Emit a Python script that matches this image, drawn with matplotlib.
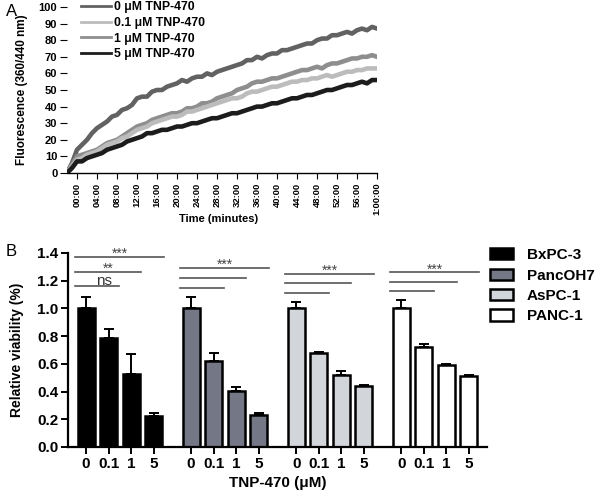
import matplotlib.pyplot as plt
from matplotlib.lines import Line2D
from matplotlib.patches import Patch
import numpy as np

plt.rcParams['font.family'] = ['Liberation Sans', 'DejaVu Sans']

# --- panel A : fluorescence over time (one point per minute)
minutes = list(range(-2, 61))
time_ticks = list(range(0, 61, 4))
time_labels = ['00:00', '04:00', '08:00', '12:00', '16:00', '20:00', '24:00', '28:00',
               '32:00', '36:00', '40:00', '44:00', '48:00', '52:00', '56:00', '1:00:00']

fl_0uM = [0, 6, 14, 17, 20, 24, 27, 29, 31, 34, 35, 38, 39, 41, 45, 46, 46, 49, 50, 50,
          52, 53, 54, 56, 55, 57, 58, 58, 60, 59, 61, 62, 63, 64, 65, 66, 68, 68, 70, 69,
          71, 72, 72, 74, 74, 75, 76, 77, 78, 78, 80, 81, 81, 83, 83, 84, 85, 84, 86, 87,
          86, 88, 87]
fl_01uM = [0, 4, 8, 9, 11, 12, 13, 15, 17, 18, 19, 21, 22, 24, 26, 27, 28, 30, 31, 32,
           33, 34, 34, 35, 37, 37, 38, 39, 40, 41, 42, 43, 44, 45, 45, 46, 48, 49, 49, 50,
           51, 52, 52, 53, 54, 55, 55, 56, 56, 57, 57, 58, 59, 58, 59, 60, 61, 61, 62, 62,
           63, 63, 63]
fl_1uM = [0, 5, 10, 11, 12, 13, 14, 16, 18, 19, 20, 22, 24, 26, 28, 29, 30, 32, 33, 34,
          35, 36, 36, 37, 39, 39, 40, 42, 42, 43, 45, 46, 47, 48, 50, 51, 52, 54, 55, 55,
          56, 57, 57, 58, 59, 60, 61, 62, 62, 63, 64, 63, 65, 66, 66, 67, 68, 69, 69, 70,
          70, 71, 70]
fl_5uM = [0, 3, 7, 7, 9, 10, 11, 12, 14, 15, 16, 17, 19, 20, 21, 22, 24, 24, 25, 26,
          26, 27, 28, 28, 29, 30, 30, 31, 32, 33, 33, 34, 35, 36, 36, 37, 38, 39, 40, 40,
          41, 42, 42, 43, 44, 45, 45, 46, 47, 47, 48, 49, 50, 50, 51, 52, 53, 53, 54, 55,
          54, 56, 56]

# --- panel B : relative viability
cell_lines = ['BxPC-3', 'PancOH7', 'AsPC-1', 'PANC-1']
doses = ['0', '0.1', '1', '5']
bxpc3_mean = [1.0, 0.79, 0.53, 0.225]
bxpc3_err = [0.085, 0.065, 0.14, 0.02]
pancoh7_mean = [1.0, 0.62, 0.405, 0.23]
pancoh7_err = [0.085, 0.055, 0.03, 0.012]
aspc1_mean = [1.0, 0.675, 0.52, 0.44]
aspc1_err = [0.045, 0.012, 0.028, 0.008]
panc1_mean = [1.0, 0.72, 0.59, 0.515]
panc1_err = [0.062, 0.025, 0.01, 0.008]
sig_heights = [[1.16, 1.265, 1.373], [1.15, 1.22, 1.294],
               [1.113, 1.18, 1.248], [1.125, 1.19, 1.26]]
sig_labels = [['ns', '**', '***'], ['', '', '***'], ['', '', '***'], ['', '', '***']]

fig = plt.figure(figsize=(6, 5), dpi=100)

# ---------------- A
ax1 = fig.add_axes([67 / 600, 1 - 173 / 500, 310 / 600, 166 / 500])
series = [(fl_0uM, '#626262', '0 μM TNP-470', 3),
          (fl_01uM, '#bcbcbc', '0.1 μM TNP-470', 4),
          (fl_1uM, '#8e8e8e', '1 μM TNP-470', 3.5),
          (fl_5uM, '#1c1c1c', '5 μM TNP-470', 5)]
for vals, col, lab, z in series:
    ax1.plot(minutes, vals, color=col, lw=3.3, zorder=z, solid_capstyle='round',
             solid_joinstyle='round')
ax1.set_xlim(-2, 60)
ax1.set_ylim(0, 100)
ax1.set_xticks(time_ticks)
ax1.set_xticklabels(time_labels, rotation=90, fontsize=6.8, fontweight='bold')
ax1.set_yticks(range(0, 101, 10))
ax1.set_yticklabels([str(v) for v in range(0, 101, 10)], fontsize=8, fontweight='bold')
for s in ['top', 'right', 'left']:
    ax1.spines[s].set_visible(False)
ax1.spines['bottom'].set_linewidth(1)
ax1.tick_params(axis='y', length=5, width=0.8, pad=2)
ax1.tick_params(axis='x', length=4, width=0.8, pad=3)
ax1.set_ylabel('Fluorescence (360/440 nm)', fontsize=8.5, fontweight='bold')
ax1.yaxis.set_label_coords(-0.125, 0.5)
ax1.set_xlabel('Time (minutes)', fontsize=8, fontweight='bold')
ax1.xaxis.set_label_coords(0.49, -0.245)

handles_a = [Line2D([], [], color=col, lw=2) for _, col, _, _ in series]
fig.legend(handles_a, [lab for _, _, lab, _ in series], loc='upper left',
           bbox_to_anchor=(80 / 600, 1.0), frameon=False, borderaxespad=0, borderpad=0.1,
           handlelength=2.4, handletextpad=0.3, labelspacing=0.3,
           prop={'weight': 'bold', 'size': 8.8})

# ---------------- B
ax2 = fig.add_axes([68 / 600, 1 - 447 / 500, 419 / 600, 194 / 500])
group_gap = 4.65
means = [bxpc3_mean, pancoh7_mean, aspc1_mean, panc1_mean]
errs = [bxpc3_err, pancoh7_err, aspc1_err, panc1_err]
colors = ['#000000', '#747786', '#d2d5da', '#ffffff']
tick_pos = []
for g in range(4):
    x = np.arange(4) + g * group_gap
    tick_pos.extend(x)
    ax2.bar(x, means[g], width=0.75, color=colors[g], edgecolor='black', linewidth=1.8,
            zorder=2)
    ax2.errorbar(x, means[g], yerr=[np.zeros(4), errs[g]], fmt='none', ecolor='black',
                 elinewidth=1.4, capsize=3.5, capthick=1.4, zorder=3)
    for k in range(3):
        x0, x1 = x[0] - 0.48, x[k + 1] + 0.45
        h = sig_heights[g][k]
        ax2.plot([x0, x1], [h, h], color='#555555', lw=1.2, clip_on=False)
        lab = sig_labels[g][k]
        if lab == 'ns':
            ax2.text((x0 + x1) / 2 + 0.3, h + 0.006, lab, ha='center', va='baseline',
                     fontsize=11, color='#333333')
        elif lab:
            ax2.text((x0 + x1) / 2, h - 0.008, lab, ha='center', va='baseline',
                     fontsize=10, color='#444444')

ax2.set_xlim(-0.8, 3 * group_gap + 3 + 0.8)
ax2.set_ylim(0, 1.4)
ax2.set_xticks(tick_pos)
ax2.set_xticklabels(doses * 4, fontsize=11, fontweight='bold')
ax2.set_yticks(np.arange(0, 1.41, 0.2))
ax2.set_yticklabels(['%.1f' % v for v in np.arange(0, 1.41, 0.2)], fontsize=11,
                    fontweight='bold')
for s in ['top', 'right']:
    ax2.spines[s].set_visible(False)
for s in ['left', 'bottom']:
    ax2.spines[s].set_linewidth(1.6)
ax2.tick_params(axis='both', length=5, width=1.4, pad=2)
ax2.set_ylabel('Relative viability (%)', fontsize=10, fontweight='bold')
ax2.yaxis.set_label_coords(-0.105, 0.5)
ax2.set_xlabel('TNP-470 (μM)', fontsize=11, fontweight='bold')
ax2.xaxis.set_label_coords(0.5, -0.15)

handles_b = [Patch(facecolor=c, edgecolor='black', linewidth=1.8) for c in colors]
fig.legend(handles_b, cell_lines, loc='upper left', bbox_to_anchor=(484 / 600, 1 - 242 / 500),
           frameon=False, borderaxespad=0, handlelength=1.5, handleheight=0.75,
           handletextpad=0.9, labelspacing=0.42, prop={'weight': 'bold', 'size': 11})

fig.text(6 / 600, 1 - 12 / 500, 'A', fontsize=12, va='center', ha='left')
fig.text(6 / 600, 1 - 252 / 500, 'B', fontsize=12, va='center', ha='left')

fig.savefig('out.png', dpi=100)
